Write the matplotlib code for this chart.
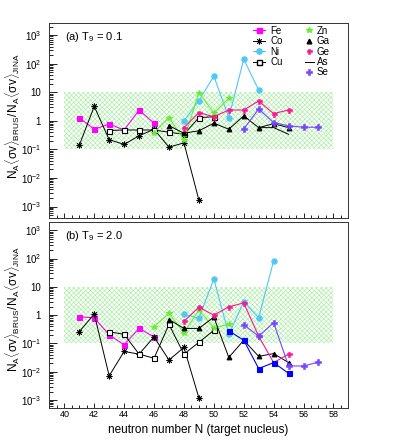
import numpy as np
import matplotlib
matplotlib.use('Agg')
import matplotlib.pyplot as plt
from matplotlib.lines import Line2D
from matplotlib.ticker import FuncFormatter, MultipleLocator, LogLocator, NullFormatter

plt.rcParams['font.family'] = ['Liberation Sans', 'DejaVu Sans']
plt.rcParams['mathtext.fontset'] = 'custom'
plt.rcParams['mathtext.rm'] = 'Liberation Sans'
plt.rcParams['mathtext.it'] = 'Liberation Sans'
plt.rcParams['hatch.linewidth'] = 0.45

# rapports N_A<sigma v>_BRUS / N_A<sigma v>_JINA
# (a) T9 = 0.1   (b) T9 = 2.0
N_Fe = [41, 42, 43, 44, 45, 46]
Fe_a = [1.3, 0.51, 0.77, 0.48, 2.4, 0.83]
Fe_b = [0.88, 0.80, 0.20, 0.09, 0.34, 0.17]

N_Co = [41, 42, 43, 44, 45, 46, 47, 48, 49]
Co_a = [0.14, 3.2, 0.22, 0.15, 0.30, 0.51, 0.12, 0.17, 0.0017]
Co_b = [0.26, 1.1, 0.0072, 0.052, 0.042, 0.17, 0.026, 0.072, 0.0012]

N_Ni_a = [48, 49, 50, 51, 52, 53]
Ni_a = [1.0, 5.1, 37, 1.3, 144, 12]
N_Ni_b = [48, 49, 50, 51, 52, 53, 54]
Ni_b = [1.1, 0.77, 19, 0.21, 2.95, 0.81, 83]

N_Cu = [43, 44, 45, 46, 47, 48, 49, 50]
Cu_a = [0.46, 0.48, 0.48, 0.48, 0.40, 0.34, 1.3, 1.4]
Cu_b = [0.26, 0.21, 0.042, 0.030, 0.47, 0.042, 0.11, 0.29]

N_Zn = [46, 47, 48, 49, 50, 51]
Zn_a = [0.39, 1.3, 0.22, 9.8, 1.9, 6.2]
Zn_b = [0.39, 1.15, 0.24, 1.5, 0.36, 0.47]

N_Ga = [47, 48, 49, 50, 51, 52, 53, 54, 55]
Ga_a = [0.68, 0.37, 0.45, 0.83, 0.51, 1.5, 0.58, 0.8, 0.58]
Ga_b = [0.70, 0.34, 0.34, 0.85, 0.032, 0.13, 0.035, 0.044, 0.021]

N_Ge = [48, 49, 50, 51, 52, 53, 54, 55]
Ge_a = [0.58, 1.95, 1.4, 2.4, 2.4, 5.0, 1.8, 2.4]
Ge_b = [0.60, 1.9, 1.0, 1.97, 2.7, 0.18, 0.021, 0.042]

N_As_a = [53, 54, 55]
As_a = [0.58, 0.58, 0.34]
N_As_b = [51, 52, 53, 54, 55]
As_b = [0.28, 0.13, 0.013, 0.021, 0.0088]

N_Se = [52, 53, 54, 55, 56, 57]
Se_a = [0.52, 2.6, 0.87, 0.67, 0.60, 0.60]
Se_b = [0.46, 0.18, 0.54, 0.016, 0.016, 0.022]

# styles : couleur, marqueur, taille, remplissage
col_Fe = '#ff00ff'
col_Ni = '#4fc8f5'
col_Zn = '#66ee33'
col_Ge = '#ff1493'
col_Se = '#7744ff'
col_As_b = '#0000ff'
asterisk = (8, 2, 0)

ylab = r'$\mathrm{N_A\langle\sigma v\rangle_{BRUS}/\,N_A\langle\sigma v\rangle_{JINA}}$'


def fmt_y(v, pos):
    e = int(round(np.log10(v)))
    if e == 0:
        return '1'
    if e == 1:
        return '10'
    return r'$10^{%d}$' % e


def courbe(ax, N, y, color, marker, ms, mfc=None, lw=0.8, mew=0.8):
    ax.plot(N, y, color=color, lw=lw, marker=marker, ms=ms,
            mfc=color if mfc is None else mfc, mec=color, mew=mew)


def panneau(ax, Fe, Co, N_Ni, Ni, Cu, Zn, Ga, Ge, N_As, As, col_As, mk_As, Se, titre, ylim):
    ax.fill_between([40, 58], 0.1, 10, facecolor='none', edgecolor='#a6eea0',
                    hatch='xxxxxxx', linewidth=0, zorder=0)
    courbe(ax, N_Fe, Fe, col_Fe, 's', 3.6)
    courbe(ax, N_Co, Co, 'k', asterisk, 4.2, mew=0.6, lw=0.7)
    courbe(ax, N_Ni, Ni, col_Ni, 'o', 3.8)
    courbe(ax, N_Cu, Cu, 'k', 's', 3.6, mfc='white', lw=0.7)
    courbe(ax, N_Zn, Zn, col_Zn, '*', 4.2)
    courbe(ax, N_Ga, Ga, 'k', '^', 3.4, lw=0.7)
    courbe(ax, N_Ge, Ge, col_Ge, 'P', 3.6, mew=0.4)
    if mk_As is None:
        ax.plot(N_As, As, color=col_As, lw=0.7)
    else:
        courbe(ax, N_As, As, col_As, mk_As, 3.6)
    courbe(ax, N_Se, Se, col_Se, 'P', 4.4, mew=0.4)

    ax.set_yscale('log')
    ax.set_xlim(39, 59)
    ax.set_ylim(*ylim)
    ax.xaxis.set_major_locator(MultipleLocator(2))
    ax.xaxis.set_minor_locator(MultipleLocator(0.5))
    ax.yaxis.set_major_locator(LogLocator(base=10, numticks=20))
    ax.yaxis.set_minor_locator(LogLocator(base=10, subs=np.arange(2, 10), numticks=20))
    ax.yaxis.set_major_formatter(FuncFormatter(fmt_y))
    ax.yaxis.set_minor_formatter(NullFormatter())
    ax.tick_params(which='both', direction='in', top=False, right=False, width=0.6)
    ax.tick_params(axis='y', which='major', length=5.5, pad=6, labelsize=7)
    ax.tick_params(axis='y', which='minor', length=2.8)
    ax.tick_params(axis='x', which='major', length=3.8, pad=2, labelsize=6.5)
    ax.tick_params(axis='x', which='minor', length=1.9)
    for s in ax.spines.values():
        s.set_linewidth(0.7)
        s.set_color('#333333')
    ax.text(0.053, 0.927, titre, transform=ax.transAxes, fontsize=8, va='center')


fig = plt.figure(figsize=(3.95, 4.41), dpi=100)
ax1 = fig.add_axes([0.125, 0.5057, 0.757, 0.443])
ax2 = fig.add_axes([0.125, 0.0755, 0.757, 0.421])

panneau(ax1, Fe_a, Co_a, N_Ni_a, Ni_a, Cu_a, Zn_a, Ga_a, Ge_a, N_As_a, As_a, 'k', None, Se_a,
        r'(a) T$_9$ = 0.1', (10**-3.4, 10**3.44))
panneau(ax2, Fe_b, Co_b, N_Ni_b, Ni_b, Cu_b, Zn_b, Ga_b, Ge_b, N_As_b, As_b, col_As_b, 's', Se_b,
        r'(b) T$_9$ = 2.0', (10**-3.27, 10**3.29))
ax1.tick_params(axis='x', labelbottom=False)

# titres des axes y (un par panneau)
fig.text(12 / 395, 1 - 116 / 441, ylab, rotation=90, ha='center', va='center', fontsize=8.5)
fig.text(12 / 395, 1 - 309 / 441, ylab, rotation=90, ha='center', va='center', fontsize=8.5)

# légende en deux colonnes
h1 = [Line2D([], [], color=col_Fe, marker='s', ms=3.6, lw=0.8),
      Line2D([], [], color='k', marker=asterisk, ms=4.2, mew=0.6, lw=0.7),
      Line2D([], [], color=col_Ni, marker='o', ms=3.8, lw=0.8),
      Line2D([], [], color='k', marker='s', ms=3.6, mfc='white', lw=0.7)]
h2 = [Line2D([], [], color=col_Zn, marker='*', ms=4.2, ls='none'),
      Line2D([], [], color='k', marker='^', ms=3.4, ls='none'),
      Line2D([], [], color=col_Ge, marker='P', ms=3.6, mew=0.4, ls='none'),
      Line2D([], [], color='k', lw=0.7),
      Line2D([], [], color=col_Se, marker='P', ms=4.4, mew=0.4, ls='none')]
leg1 = ax1.legend(h1, ['Fe', 'Co', 'Ni', 'Cu'], loc='upper left', bbox_to_anchor=(0.68, 0.985),
                  frameon=False, fontsize=7, handlelength=1.3, handletextpad=0.5,
                  labelspacing=0.05, borderpad=0, borderaxespad=0)
ax1.add_artist(leg1)
ax1.legend(h2, ['Zn', 'Ga', 'Ge', 'As', 'Se'], loc='upper left', bbox_to_anchor=(0.855, 0.985),
           frameon=False, fontsize=7, handlelength=0.9, handletextpad=0.3,
           labelspacing=0.05, borderpad=0, borderaxespad=0)

fig.text(0.503, 1 - 430 / 441, 'neutron number N (target nucleus)', ha='center', va='center',
         fontsize=8.5)

fig.savefig('out.png', dpi=100)
